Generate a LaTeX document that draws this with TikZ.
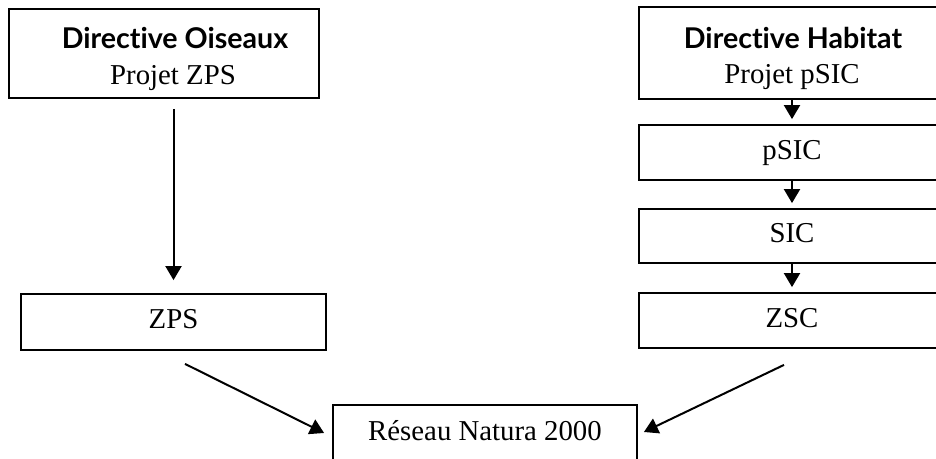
\documentclass[tikz,border=0pt]{standalone}
\usepackage{fontspec}
\setmainfont{Liberation Serif}
\newfontfamily\headfont{Lato}[Ligatures={NoCommon,NoContextual}]
\usetikzlibrary{arrows.meta,calc}
\begin{document}
\begin{tikzpicture}[x=0.5pt,y=-0.5pt,
  box/.style={draw,line width=0.9pt,rectangle,inner sep=0pt,text height=0.66em,text depth=0pt,
    font=\fontsize{14.4}{17}\selectfont},
  head/.style={anchor=base,inner sep=0pt,font=\headfont\bfseries\fontsize{14.3}{17}\selectfont},
  sub/.style={anchor=base,inner sep=0pt,font=\fontsize{14.4}{17}\selectfont},
  arr/.style={line width=1pt,-{Triangle[length=7pt,width=8pt]}}]
\useasboundingbox (0,0) rectangle (936,459);
\clip (0,0) rectangle (936,459);
% boxes
\node[box,minimum width=155pt,minimum height=44.5pt] (DO) at (164,53.5) {};
\node[head] (DOa) at (175,49) {Direc\kern0pt tive Oiseaux};
\node[sub]  (DOb) at (173,85) {Projet ZPS};
\node[box,minimum width=153pt,minimum height=46pt] (DH) at (792,53) {};
\node[head] (DHa) at (793,49) {Direc\kern0pt tive Habitat};
\node[sub]  (DHb) at (792,84) {Projet pSIC};
\node[box,minimum width=153pt,minimum height=27.5pt] (pSIC) at (792,152.5) {pSIC};
\node[box,minimum width=153pt,minimum height=27pt] (SIC) at (792,236) {SIC};
\node[box,minimum width=153pt,minimum height=27.5pt] (ZSC) at (792,320.5) {ZSC};
\node[box,minimum width=152.5pt,minimum height=28pt] (ZPS) at (173.5,322) {ZPS};
\node[box,minimum width=152pt,minimum height=29pt] (RN) at (485,434) {Réseau Natura 2000};
% connectors
\draw[arr,shorten <=5pt,shorten >=6.5pt] (DO.south -| ZPS.north) -- (ZPS.north);
\draw[arr,shorten >=2.5pt] (DH.south) -- (pSIC.north);
\draw[arr,shorten >=2.5pt] (pSIC.south) -- (SIC.north);
\draw[arr,shorten >=2.5pt] (SIC.south) -- (ZSC.north);
\draw[arr] ($(ZPS.south)+(11.5,13)$) -- ($(RN.west)+(-8,-1)$);
\draw[arr] ($(ZSC.south)+(-8,16)$) -- ($(RN.east)+(6,-2)$);
\end{tikzpicture}
\end{document}
